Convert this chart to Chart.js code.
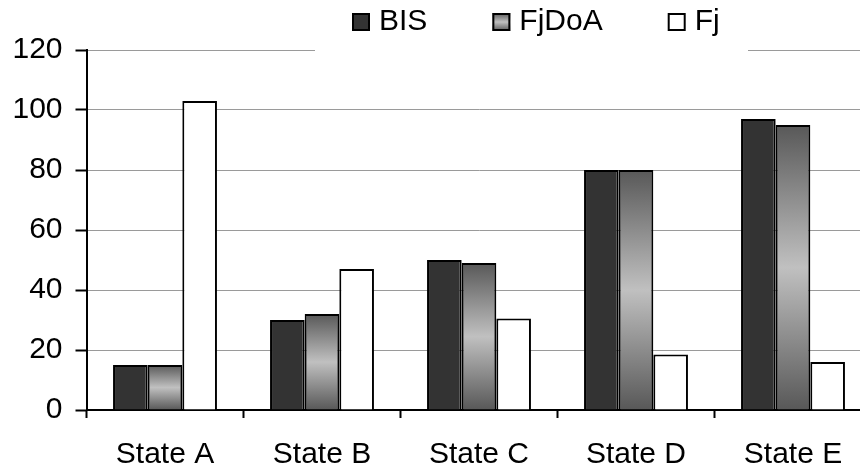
<!DOCTYPE html>
<html>
<head>
<meta charset="utf-8">
<script src="https://cdn.jsdelivr.net/npm/chart.js@4/dist/chart.umd.min.js"></script>
<style>
  html, body { margin: 0; padding: 0; background: #fff; overflow: hidden; }
  canvas { display: block; }
</style>
</head>
<body>
<canvas id="chart" width="876" height="470"></canvas>
<script>
// Categories and series values
const categories = ['State A', 'State B', 'State C', 'State D', 'State E'];
const seriesNames = ['BIS', 'FjDoA', 'Fj'];
const bisValues = [15, 30, 50, 80, 97];
const fjdoaValues = [15, 32, 49, 80, 95];
const fjValues = [103, 47, 30.5, 18.5, 16];
const yTicks = [0, 20, 40, 60, 80, 100, 120];

const FONT = "'Liberation Sans', Arial, sans-serif";

// Vertical dark-light-dark gradient between two pixel rows
function metalGradient(ctx, top, bottom) {
  const g = ctx.createLinearGradient(0, top, 0, bottom);
  g.addColorStop(0, '#585858');
  g.addColorStop(0.5, '#c0c0c0');
  g.addColorStop(1, '#585858');
  return g;
}

// Per-bar gradient for the FjDoA series
function fjdoaFill(context) {
  const chart = context.chart;
  const y = chart.scales.y;
  if (!y || context.parsed === undefined || context.type !== 'data') return '#999';
  const top = y.getPixelForValue(context.parsed.y);
  const bottom = y.getPixelForValue(0);
  if (!isFinite(top) || !isFinite(bottom) || top === bottom) return '#999';
  return metalGradient(chart.ctx, top, bottom);
}

// Legend drawn on a white panel above the plot
const legendPanel = {
  id: 'legendPanel',
  afterDraw(chart) {
    const ctx = chart.ctx;
    ctx.save();
    ctx.fillStyle = '#fff';
    ctx.fillRect(315, 0, 433, 54);
    ctx.font = '30px ' + FONT;
    ctx.textBaseline = 'middle';
    ctx.textAlign = 'left';
    const box = 18, boxTop = 13, gap = 9, itemGap = 65;
    let x = 352;
    chart.data.datasets.forEach((ds) => {
      let fill = ds.legendFill;
      if (fill === 'gradient') fill = metalGradient(ctx, boxTop, boxTop + box);
      ctx.fillStyle = fill;
      ctx.fillRect(x, boxTop, box, box);
      ctx.lineWidth = 2;
      ctx.strokeStyle = '#000';
      ctx.strokeRect(x + 1, boxTop + 1, box - 2, box - 2);
      ctx.fillStyle = '#000';
      ctx.fillText(ds.label, x + box + gap, 22);
      x += box + gap + ctx.measureText(ds.label).width + itemGap;
    });
    ctx.restore();
  }
};

const common = {
  borderColor: '#000',
  borderWidth: 2,
  barPercentage: 1.0,
  categoryPercentage: 0.662
};

new Chart(document.getElementById('chart'), {
  type: 'bar',
  data: {
    labels: categories,
    datasets: [
      Object.assign({ label: seriesNames[0], data: bisValues, backgroundColor: '#333333', legendFill: '#333333' }, common),
      Object.assign({ label: seriesNames[1], data: fjdoaValues, backgroundColor: fjdoaFill, legendFill: 'gradient' }, common),
      Object.assign({ label: seriesNames[2], data: fjValues, backgroundColor: '#ffffff', legendFill: '#ffffff' }, common)
    ]
  },
  options: {
    responsive: false,
    animation: false,
    devicePixelRatio: 1,
    layout: { padding: { top: 50, left: 0, right: 4.5, bottom: 0 } },
    plugins: {
      legend: { display: false },
      tooltip: { enabled: false }
    },
    scales: {
      x: {
        offset: true,
        afterFit(scale) { scale.height = 60; },
        border: { display: true, color: '#000', width: 2 },
        grid: { offset: true, drawOnChartArea: false, tickLength: 8, tickColor: '#000', tickWidth: 2 },
        ticks: { color: '#000', padding: 19, font: { family: FONT, size: 30 }, maxRotation: 0 }
      },
      y: {
        min: 0,
        max: 120,
        afterFit(scale) { scale.width = 86.5; },
        afterBuildTicks(scale) { scale.ticks = yTicks.map(v => ({ value: v })); },
        border: { display: true, color: '#000', width: 2 },
        grid: { color: '#9a9a9a', lineWidth: 1, tickLength: 11, tickColor: '#000', tickWidth: 2 },
        ticks: { color: '#000', padding: 13, font: { family: FONT, size: 30 } }
      }
    }
  },
  plugins: [legendPanel]
});
</script>
</body>
</html>
